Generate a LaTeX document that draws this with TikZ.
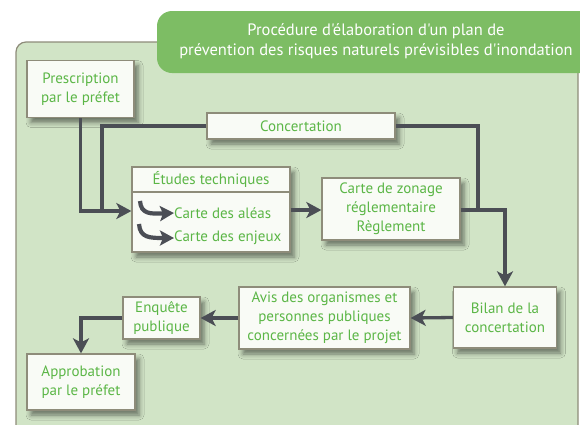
\documentclass[tikz,border=0pt]{standalone}
\usepackage{fontspec}
\setmainfont{PT Sans}[Ligatures=TeXOff]
\usetikzlibrary{arrows.meta,shadows.blur}
\definecolor{panelfill}{HTML}{D1E4C6}
\definecolor{panelline}{HTML}{8E8C7A}
\definecolor{tabfill}{HTML}{7DBD64}
\definecolor{txtgreen}{HTML}{5BB646}
\definecolor{boxfill}{HTML}{F9FBF6}
\definecolor{conn}{HTML}{4B4E55}
\tikzset{
  stepbox/.style={draw=panelline, line width=1.3pt, fill=boxfill, inner sep=0pt,
    text=txtgreen, align=center, font=\fontsize{15}{19}\selectfont,
    blur shadow={shadow xshift=4pt, shadow yshift=-5pt, shadow blur radius=5pt, shadow opacity=50}},
  lbl/.style={text=txtgreen, inner sep=0pt, font=\fontsize{15}{19}\selectfont},
  link/.style={draw=conn, line width=3.3pt},
  arr/.style={link, -{Stealth[length=15pt, width=16pt, inset=4pt]}},
  curvarr/.style={draw=conn, line width=4.2pt, -{Stealth[length=14pt, width=15pt, inset=3pt]}},
}
\begin{document}
\begin{tikzpicture}[x=1pt,y=-1pt]
\useasboundingbox (0,0) rectangle (580,424);
% panel
\draw[fill=panelfill, draw=panelline, line width=1.2pt, rounded corners=10pt] (16,42) rectangle (578,440);
% title tab
\begin{scope}
\clip (0,0) rectangle (580,424);
\fill[tabfill, rounded corners=15pt] (157,11) rectangle (620,73);
\end{scope}
\node[text=white, align=center, inner sep=0pt, font=\fontsize{16.5}{20}\selectfont] (title) at (376,41)
  {Procédure d'élaboration d'un plan de\\prévention des risques naturels prévisibles d'inondation};

% boxes
\node[stepbox, minimum width=107pt, minimum height=57pt] (presc) at (80.5,89) {Prescription\\par le préfet};
\node[stepbox, minimum width=188pt, minimum height=26pt] (conc) at (301,126) {Concertation};
\node[stepbox, minimum width=158pt, minimum height=85pt] (etudes) at (211,209.5) {};
\draw[draw=panelline, line width=1.3pt] (etudes.west |- 0,192) coordinate (dl) -- (etudes.east |- 0,192) coordinate (dr);
\node[lbl] (ethead) at (211,179.5) {Études techniques};
\node[lbl, anchor=west] (alea) at (174,213) {Carte des aléas};
\node[lbl, anchor=west] (enjeux) at (174,238) {Carte des enjeux};
\node[stepbox, minimum width=138pt, minimum height=62pt] (zonage) at (391,209) {Carte de zonage\\réglementaire\\Règlement};
\node[stepbox, minimum width=103pt, minimum height=61pt] (bilan) at (505,317.5) {Bilan de la\\concertation};
\node[stepbox, minimum width=171pt, minimum height=62pt] (avis) at (324.5,318) {Avis des organismes et\\personnes publiques\\concernées par le projet};
\node[stepbox, minimum width=77pt, minimum height=42pt] (enq) at (161.5,318) {Enquête\\publique};
\node[stepbox, minimum width=108pt, minimum height=56pt] (approb) at (81,382) {Approbation\\par le préfet};

% curved small arrows
\coordinate (c1s) at (140,201);
\coordinate (c2s) at (139,224);
\draw[curvarr] (c1s) .. controls (141,214) and (150,214) .. (alea.west);
\draw[curvarr] (c2s) .. controls (140,238) and (150,238) .. (enjeux.west);

% connectors
\coordinate (jin) at (102,211);
\coordinate (jout) at (478,210);
\draw[arr] (presc.south) |- (etudes.west |- jin);
\draw[link] (conc.west) -| (jin);
\draw[link] (conc.east) -| (jout);
\draw[arr] (etudes.east |- 0,210) -- (zonage.west |- 0,210);
\draw[arr] (zonage.east |- 0,210) -| (bilan.north);
\draw[arr] (bilan.west) -- (avis.east);
\draw[arr] (avis.west) -- (enq.east);
\draw[arr] (enq.west) -| (approb.north);
\end{tikzpicture}
\end{document}
